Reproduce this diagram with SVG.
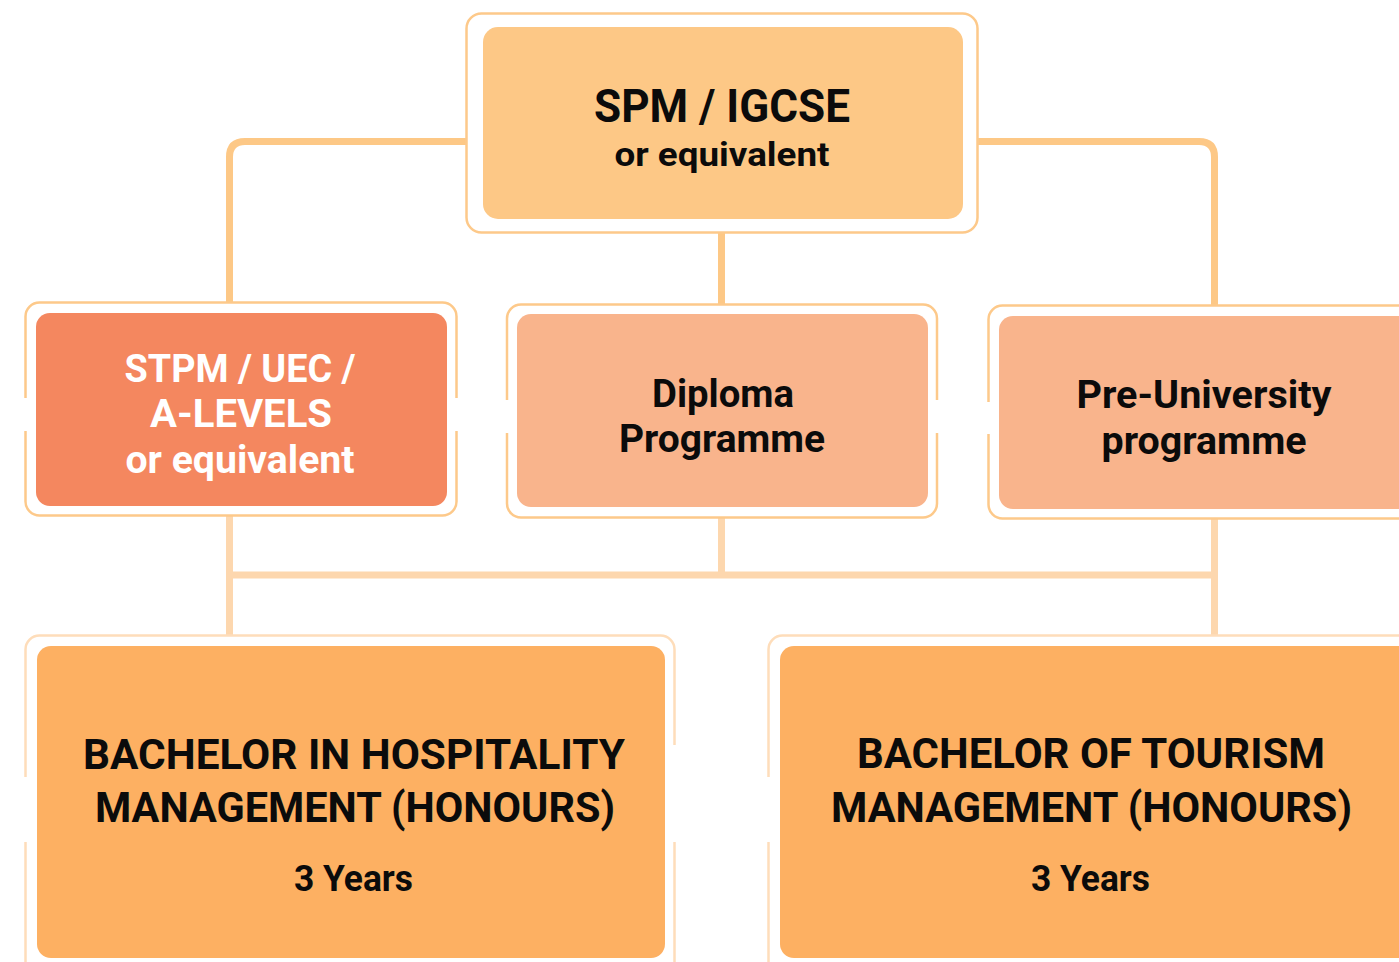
<svg xmlns="http://www.w3.org/2000/svg" width="1399" height="962" viewBox="0 0 1399 962">
  <style>
    .frame { fill: none; stroke: #FDC98A; stroke-width: 2.5; }
    .frame-lt { fill: none; stroke: #FEDDBA; stroke-width: 2.5; }
    .gap { fill: #FFFFFF; }
    .link { fill: none; stroke: #FDC886; stroke-width: 7; }
    .link-lt { fill: none; stroke: #FDD7AE; stroke-width: 7; }
    text { font-family: Roboto, "Liberation Sans", sans-serif; font-weight: 700; text-anchor: middle; }
    .dark { fill: #0B0B0B; }
    .light { fill: #FFFFFF; }
  </style>
  <rect width="1399" height="962" fill="#FFFFFF"/>

  <!-- connectors -->
  <g id="connectors">
    <path class="link" d="M466 141.5 H245 Q229.5 141.5 229.5 157 V303"/>
    <path class="link" d="M978 141.5 H1199 Q1214.5 141.5 1214.5 157 V305"/>
    <path class="link" d="M721.5 233 V304"/>
    <path class="link-lt" d="M229.5 516 V635"/>
    <path class="link-lt" d="M721.5 517 V575"/>
    <path class="link-lt" d="M1214.5 519 V635"/>
    <path class="link-lt" d="M229.5 575 H1214.5"/>
  </g>

  <!-- SPM / IGCSE -->
  <g id="node-spm">
    <rect class="frame" x="466.5" y="13.5" width="511" height="219" rx="15"/>
    <rect x="483" y="27" width="480" height="192" rx="15" fill="#FDC886"/>
    <text class="dark" x="722" y="122" font-size="46" textLength="256" lengthAdjust="spacingAndGlyphs">SPM / IGCSE</text>
    <text class="dark" x="722" y="166" font-size="33" textLength="215" lengthAdjust="spacingAndGlyphs">or equivalent</text>
  </g>

  <!-- STPM / UEC / A-LEVELS -->
  <g id="node-stpm">
    <rect class="frame" x="25.5" y="302.5" width="431" height="213" rx="14"/>
    <rect class="gap" x="22" y="398" width="8" height="33"/>
    <rect class="gap" x="452" y="398" width="8" height="33"/>
    <rect x="36" y="313" width="411" height="193" rx="14" fill="#F4875F"/>
    <text class="light" x="240" y="382" font-size="38" textLength="231" lengthAdjust="spacingAndGlyphs">STPM / UEC /</text>
    <text class="light" x="241" y="427" font-size="38" textLength="182" lengthAdjust="spacingAndGlyphs">A-LEVELS</text>
    <text class="light" x="240" y="473" font-size="38" textLength="229" lengthAdjust="spacingAndGlyphs">or equivalent</text>
  </g>

  <!-- Diploma Programme -->
  <g id="node-diploma">
    <rect class="frame" x="507" y="304.5" width="430" height="213" rx="14"/>
    <rect class="gap" x="503" y="400" width="8" height="33"/>
    <rect class="gap" x="933" y="400" width="8" height="33"/>
    <rect x="517" y="314" width="411" height="193" rx="14" fill="#F9B48C"/>
    <text class="dark" x="723" y="407" font-size="38" textLength="142" lengthAdjust="spacingAndGlyphs">Diploma</text>
    <text class="dark" x="722" y="452" font-size="38" textLength="206" lengthAdjust="spacingAndGlyphs">Programme</text>
  </g>

  <!-- Pre-University programme -->
  <g id="node-preu">
    <rect class="frame" x="988.5" y="305.5" width="440" height="213" rx="14"/>
    <rect class="gap" x="985" y="402" width="8" height="32"/>
    <rect x="999" y="316" width="430" height="193" rx="14" fill="#F9B48C"/>
    <text class="dark" x="1204" y="408" font-size="38" textLength="255" lengthAdjust="spacingAndGlyphs">Pre-University</text>
    <text class="dark" x="1204" y="454" font-size="38" textLength="205" lengthAdjust="spacingAndGlyphs">programme</text>
  </g>

  <!-- Bachelor in Hospitality Management -->
  <g id="node-hospitality">
    <rect class="frame-lt" x="25.5" y="635.5" width="649" height="360" rx="14"/>
    <rect class="gap" x="22" y="777" width="8" height="65"/>
    <rect class="gap" x="670" y="745" width="8" height="97"/>
    <rect x="37" y="646" width="628" height="312" rx="14" fill="#FDB062"/>
    <text class="dark" x="354" y="769" font-size="43" textLength="542" lengthAdjust="spacingAndGlyphs">BACHELOR IN HOSPITALITY</text>
    <text class="dark" x="355" y="822" font-size="43" textLength="520" lengthAdjust="spacingAndGlyphs">MANAGEMENT (HONOURS)</text>
    <text class="dark" x="353.5" y="891" font-size="36" textLength="119" lengthAdjust="spacingAndGlyphs">3 Years</text>
  </g>

  <!-- Bachelor of Tourism Management -->
  <g id="node-tourism">
    <rect class="frame-lt" x="768.5" y="635.5" width="660" height="360" rx="14"/>
    <rect class="gap" x="765" y="777" width="8" height="65"/>
    <rect x="780" y="646" width="640" height="312" rx="14" fill="#FDB062"/>
    <text class="dark" x="1091" y="768" font-size="43" textLength="468" lengthAdjust="spacingAndGlyphs">BACHELOR OF TOURISM</text>
    <text class="dark" x="1091.5" y="822" font-size="43" textLength="521" lengthAdjust="spacingAndGlyphs">MANAGEMENT (HONOURS)</text>
    <text class="dark" x="1090.5" y="891" font-size="36" textLength="119" lengthAdjust="spacingAndGlyphs">3 Years</text>
  </g>
</svg>
